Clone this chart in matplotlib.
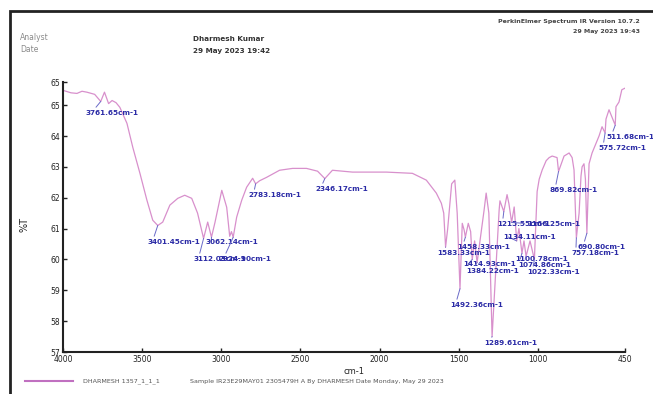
import matplotlib
matplotlib.use("Agg")
from matplotlib import pyplot as plt
from matplotlib.patches import Rectangle

W, H = 653, 394

# trace of the spectrum between the marked bands (cm-1, %T)
trace_wn = [4000, 3950, 3912, 3880, 3849, 3800, 3738, 3712, 3690, 3665, 3641, 3596, 3559, 3514,
            3470, 3433, 3370, 3325, 3275, 3231, 3187, 3150, 3086, 3040, 2997, 2966, 2947, 2936,
            2903, 2871, 2840, 2802, 2758, 2714, 2632, 2550, 2462, 2392, 2298, 2171, 1957, 1793,
            1705, 1642, 1610, 1595, 1570, 1545, 1525, 1510, 1478, 1466, 1440, 1425, 1400, 1340,
            1327, 1310, 1245, 1240, 1195, 1183, 1150, 1120, 1088, 1050, 1005, 992, 973, 948, 929,
            910, 879, 835, 803, 784, 772, 740, 728, 721, 709, 700, 677, 658, 614, 595, 570, 551,
            507, 488, 470, 450]
trace_t = [65.48, 65.40, 65.38, 65.45, 65.42, 65.35, 65.42, 65.05, 65.15, 65.08, 64.93, 64.41, 63.63, 62.79,
           61.92, 61.27, 61.21, 61.76, 61.98, 62.08, 61.98, 61.50, 61.21, 61.20, 62.24, 61.69, 60.75, 60.90,
           61.37, 61.92, 62.34, 62.63, 62.55, 62.66, 62.89, 62.95, 62.95, 62.86, 62.89, 62.83, 62.83, 62.79,
           62.57, 62.15, 61.82, 61.50, 61.00, 62.45, 62.57, 61.50, 61.17, 60.95, 61.17, 60.90, 60.60, 61.60,
           62.15, 61.50, 61.60, 61.90, 62.10, 61.80, 61.70, 61.00, 60.60, 60.60, 62.20, 62.60, 62.90, 63.20, 63.30,
           63.35, 63.30, 63.35, 63.45, 63.30, 62.90, 61.50, 62.70, 63.00, 63.10, 62.60, 63.10, 63.45, 64.00, 64.30,
           64.55, 64.85, 64.95, 65.10, 65.50, 65.55]

# labelled bands
peak_wn = [3761.65, 3401.45, 3112.03, 3062.14, 2924.90, 2783.18, 2346.17, 1583.33, 1492.36, 1458.33,
           1414.93, 1384.22, 1289.61, 1215.55, 1166.25, 1134.11, 1100.78, 1074.86, 1022.33, 869.82,
           757.18, 690.80, 575.72, 511.68]
peak_t = [65.12, 61.10, 60.68, 60.72, 60.72, 62.45, 62.62, 60.40, 59.05, 60.72,
          60.00, 59.90, 57.50, 61.55, 61.20, 60.60, 60.20, 60.10, 60.00, 62.85,
          60.70, 60.85, 64.10, 64.35]
# label text position (px from left, px from top)
label_xy = [(86, 113), (147, 242), (193, 259), (206, 242), (218, 259), (248, 195), (315, 189),
            (437, 253), (450, 305), (457, 247), (463, 264), (466, 271), (484, 343), (497, 224),
            (527, 224), (503, 237), (515, 259), (518, 265), (527, 272), (550, 190), (571, 253),
            (578, 247), (598, 148), (606, 137)]

wn = trace_wn + peak_wn
tt = trace_t + peak_t
pts = sorted(zip(wn, tt), reverse=True)

fig = plt.figure(figsize=(W / 100, H / 100), dpi=100)
plt.rcParams['font.family'] = ['DejaVu Sans']

# page frame
fig.patches.append(Rectangle((10 / W, -0.05), 1.1, (H - 11) / H + 0.05, transform=fig.transFigure,
                             fill=False, edgecolor='#222222', linewidth=2))

ax = fig.add_axes([63 / W, (H - 352) / H, (625 - 63) / W, (352 - 82) / H])
ax.plot([p[0] for p in pts], [p[1] for p in pts], color='#d890cc', linewidth=0.9)
ax.set_xlim(4000, 450)
ax.set_ylim(57, 65.75)
ax.set_xticks([4000, 3500, 3000, 2500, 2000, 1500, 1000, 450])
ax.set_xticklabels(['4000', '3500', '3000', '2500', '2000', '1500', '1000', '450'])
ax.set_yticks([57, 58, 59, 60, 61, 62, 63, 64, 65, 65.75])
ax.set_yticklabels(['57', '58', '59', '60', '61', '62', '63', '64', '65', '65'])
ax.tick_params(direction='in', length=3, width=1, labelsize=5.5, colors='#222222', pad=2)
for s in ['top', 'right']:
    ax.spines[s].set_visible(False)
for s in ['left', 'bottom']:
    ax.spines[s].set_linewidth(1.5)
    ax.spines[s].set_color('#222222')

for w, t, (px, py) in zip(peak_wn, peak_t, label_xy):
    ax.annotate('%.2fcm-1' % w, xy=(w, t), xytext=(px, H - py), textcoords='figure pixels',
                fontsize=5.2, color='#2b2ba6', ha='left', va='center', fontweight='bold',
                arrowprops=dict(arrowstyle='-', color='#6a6ac8', lw=0.7, shrinkA=0, shrinkB=0,
                                relpos=(0.1, 0.5)))

ax.set_ylabel('%T', fontsize=7, color='#222222')
ax.yaxis.set_label_coords((29 - 63) / (625 - 63), (352 - 225) / (352 - 82))
fig.text(343 / W, 1 - 372 / H, 'cm-1', fontsize=6, color='#222222', ha='left', va='center')

# header
fig.text(20 / W, 1 - 38 / H, 'Analyst', fontsize=5.5, color='#8a8a8a', va='center')
fig.text(20 / W, 1 - 50 / H, 'Date', fontsize=5.5, color='#8a8a8a', va='center')
fig.text(193 / W, 1 - 39 / H, 'Dharmesh Kumar', fontsize=5.2, color='#333333', va='center', fontweight='bold')
fig.text(193 / W, 1 - 51 / H, '29 May 2023 19:42', fontsize=5.2, color='#333333', va='center', fontweight='bold')
fig.text(640 / W, 1 - 22 / H, 'PerkinElmer Spectrum IR Version 10.7.2', fontsize=4.5, color='#444444',
         ha='right', va='center', fontweight='bold')
fig.text(640 / W, 1 - 32 / H, '29 May 2023 19:43', fontsize=4.5, color='#444444', ha='right', va='center',
         fontweight='bold')

# legend row
fig.add_artist(plt.Line2D([25 / W, 73 / W], [1 - 381 / H, 1 - 381 / H], color='#c070c0', linewidth=1.5))
fig.text(83 / W, 1 - 381 / H, 'DHARMESH 1357_1_1_1', fontsize=4.6, color='#555555', va='center')
fig.text(190 / W, 1 - 381 / H, 'Sample IR23E29MAY01 2305479H A By DHARMESH Date Monday, May 29 2023',
         fontsize=4.6, color='#555555', va='center')

plt.savefig('out.png', dpi=100)
